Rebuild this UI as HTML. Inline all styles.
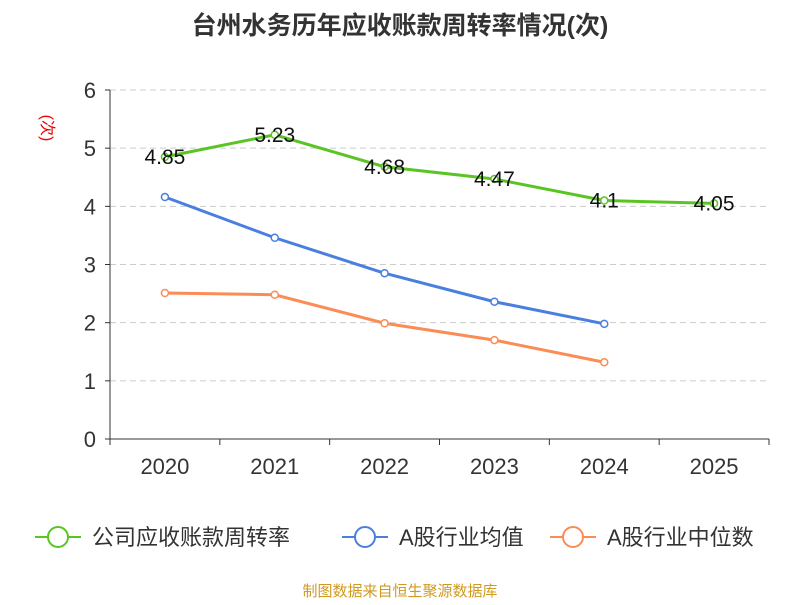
<!DOCTYPE html>
<html><head><meta charset="utf-8"><style>
body{margin:0;background:#fff;}
svg text{font-family:"Liberation Sans","Noto Sans CJK SC",sans-serif;}
</style></head><body>
<svg id="chart" width="800" height="600">
<text x="400" y="34" text-anchor="middle" font-size="25" font-weight="bold" fill="#333">台州水务历年应收账款周转率情况(次)</text>
<text transform="translate(42,128) rotate(90)" text-anchor="middle" font-size="16" fill="#e00">(次)</text>
<g id="grid"></g><g id="axes"></g><g id="series"></g>
<g id="legend"></g>
<text x="400" y="596" text-anchor="middle" font-size="15" fill="#d09a20">制图数据来自恒生聚源数据库</text>
</svg>
<script>
const categories=["2020","2021","2022","2023","2024","2025"];
const yTicks=[0,1,2,3,4,5,6];
const company=[4.85,5.23,4.68,4.47,4.1,4.05];
const companyLabels=["4.85","5.23","4.68","4.47","4.1","4.05"];
const industryAvg=[4.16,3.46,2.85,2.36,1.98];
const industryMed=[2.51,2.48,1.99,1.70,1.32];
const NS="http://www.w3.org/2000/svg";
const L=110,R=769,T=90,B=439;
const xs=i=>L+(R-L)/categories.length*(i+0.5);
const ys=v=>B-(B-T)*v/6;
function mk(tag,attrs,parent){const e=document.createElementNS(NS,tag);for(const k in attrs)e.setAttribute(k,attrs[k]);parent.appendChild(e);return e;}
const grid=document.getElementById('grid'),axes=document.getElementById('axes'),ser=document.getElementById('series'),leg=document.getElementById('legend');
yTicks.forEach(t=>{
 if(t>0){const g=mk('line',{x1:L,x2:R,y1:ys(t),y2:ys(t),stroke:'#ccc','stroke-dasharray':'6,4'},grid);
 }
 const tk=mk('line',{x1:L-5,x2:L,y1:ys(t),y2:ys(t),stroke:'#333'},axes);
 
 const tx=mk('text',{x:L-14,y:ys(t)+8,'text-anchor':'end','font-size':22,fill:'#333'},axes);tx.textContent=t;
 
});
const ya=mk('line',{x1:L,x2:L,y1:T,y2:B,stroke:'#333'},axes);

const xa=mk('line',{x1:L,x2:R,y1:B,y2:B,stroke:'#333'},axes);

for(let i=0;i<=categories.length;i++){const x=L+(R-L)/categories.length*i;
 const tk=mk('line',{x1:x,x2:x,y1:B,y2:B+6,stroke:'#333'},axes);
 }
categories.forEach((c,i)=>{const t=mk('text',{x:xs(i),y:474,'text-anchor':'middle','font-size':22,fill:'#333'},axes);t.textContent=c;
 });
function series(vals,color,name){
 const g=mk('g',{},ser);
 const p=mk('polyline',{points:vals.map((v,i)=>xs(i)+','+ys(v)).join(' '),fill:'none',stroke:color,'stroke-width':3},g);
 
 vals.forEach((v,i)=>{const c=mk('circle',{cx:xs(i),cy:ys(v),r:3.5,fill:'#fff',stroke:color,'stroke-width':1.5},g);
  });
 return g;}
series(industryMed,'#fb8c55','industry-median');
series(industryAvg,'#4a7fe0','industry-average');
const cg=series(company,'#5bc425','company-turnover');
company.forEach((v,i)=>{const t=mk('text',{x:xs(i),y:ys(v)+7,'text-anchor':'middle','font-size':21,fill:'#111'},cg);t.textContent=companyLabels[i];
 });
[["公司应收账款周转率",'#5bc425',35],["A股行业均值",'#4a7fe0',342],["A股行业中位数",'#fb8c55',550]].forEach(([n,c,x])=>{
 const g=mk('g',{},leg);
 mk('line',{x1:x,x2:x+46,y1:537,y2:537,stroke:c,'stroke-width':2},g);
 mk('circle',{cx:x+23,cy:537,r:10,fill:'#fff',stroke:c,'stroke-width':2},g);
 const t=mk('text',{x:x+57,y:545,'font-size':22,fill:'#333'},g);t.textContent=n;});
</script>
</body></html>
